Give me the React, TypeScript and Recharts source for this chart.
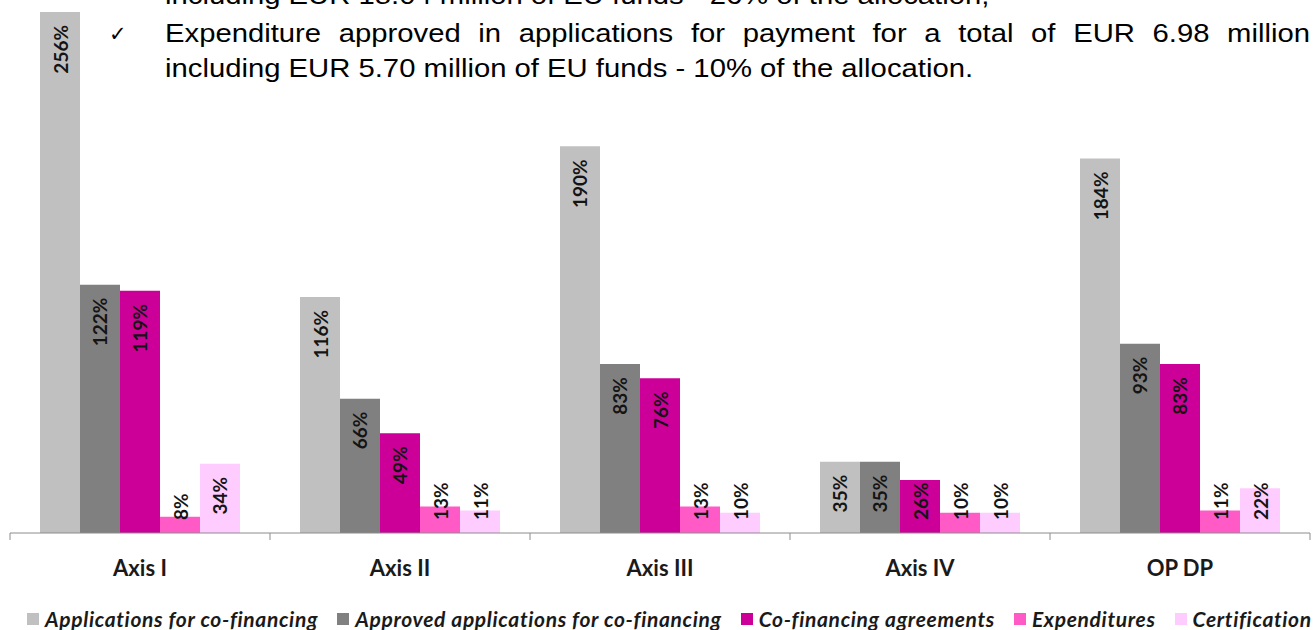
import React from "react";
import { Bar, BarChart, LabelList, XAxis, YAxis } from "recharts";

const categories = ["Axis I", "Axis II", "Axis III", "Axis IV", "OP DP"];
const applications = [256, 116, 190, 35, 184];
const approved = [122, 66, 83, 35, 93];
const agreements = [119, 49, 76, 26, 83];
const expenditures = [8, 13, 13, 10, 11];
const certification = [34, 11, 10, 10, 22];

const SERIES = [
  { key: "applications", name: "Applications for co-financing", color: "#c0c0c0" },
  { key: "approved", name: "Approved applications for co-financing", color: "#808080" },
  { key: "agreements", name: "Co-financing agreements", color: "#cc0099" },
  { key: "expenditures", name: "Expenditures", color: "#ff5ac6" },
  { key: "certification", name: "Certification", color: "#ffccff" },
];

const W = 1314;
const H = 630;
const MARGIN = { top: 12, right: 4, bottom: 0, left: 10 };
const AXIS_H = 97;
const BAND = (W - MARGIN.left - MARGIN.right) / categories.length;

const data = categories.map((name, i) => ({
  name,
  applications: applications[i],
  approved: approved[i],
  agreements: agreements[i],
  expenditures: expenditures[i],
  certification: certification[i],
}));

const LABEL_FONT = "Lato, 'Open Sans', sans-serif";

// vertical label: top of text sits just under the bar end, unless the bar is
// too short, then the text rests a bit above the baseline
function BarValueLabel(props: any) {
  const { x, y, width, height, value } = props;
  const text = `${value}%`;
  const estLen = String(value).length * 11 + 15;
  const cx = x + width / 2;
  const base = y + height;
  const fits = height >= 13 + estLen + 13;
  const ty = fits ? y + 13 : base - 13;
  return (
    <text
      x={cx}
      y={ty}
      transform={`rotate(-90, ${cx}, ${ty})`}
      textAnchor={fits ? "end" : "start"}
      dominantBaseline="central"
      fontFamily={LABEL_FONT}
      fontWeight={700}
      fontSize={19}
      fill="#141414"
    >
      {text}
    </text>
  );
}

function CategoryTick(props: any) {
  const { x, y, payload, index } = props;
  const left = x - BAND / 2;
  const right = x + BAND / 2;
  return (
    <g>
      <line x1={left} y1={y} x2={left} y2={y + 7} stroke="#8c8c8c" />
      {index === categories.length - 1 && (
        <line x1={right} y1={y} x2={right} y2={y + 7} stroke="#8c8c8c" />
      )}
      <text
        x={x}
        y={y + 34}
        textAnchor="middle"
        dominantBaseline="central"
        fontFamily={LABEL_FONT}
        fontWeight={700}
        fontSize={22}
        fill="#1a1a1a"
      >
        {payload.value}
      </text>
    </g>
  );
}

function LegendRow() {
  return (
    <div
      style={{
        position: "absolute",
        left: 27,
        top: 605,
        display: "flex",
        alignItems: "center",
        whiteSpace: "nowrap",
        fontFamily: LABEL_FONT,
        fontWeight: 700,
        fontStyle: "italic",
        fontSize: 21,
        lineHeight: "28px",
        color: "#1a1a1a",
        letterSpacing: 0.65,
      }}
    >
      {SERIES.map((s) => (
        <div key={s.key} style={{ display: "flex", alignItems: "center", marginRight: 19 }}>
          <span style={{ width: 12, height: 12, background: s.color, marginRight: 6, display: "inline-block" }} />
          <span>{s.name}</span>
        </div>
      ))}
    </div>
  );
}

const SCALE_X = 1.17;

export default function App() {
  const textStyle: React.CSSProperties = {
    position: "absolute",
    left: 165,
    fontFamily: "'Liberation Sans', Arial, sans-serif",
    fontSize: 25,
    color: "#000",
    whiteSpace: "nowrap",
    lineHeight: "30px",
    transform: `scaleX(${SCALE_X})`,
    transformOrigin: "0 0",
  };
  return (
    <div
      style={{
        position: "absolute",
        left: 0,
        top: 0,
        width: W,
        height: H,
        overflow: "hidden",
        background: "#fff",
      }}
    >
      <BarChart
        width={W}
        height={H}
        data={data}
        margin={MARGIN}
        barCategoryGap={30}
        barGap={0}
      >
        <XAxis
          dataKey="name"
          height={AXIS_H}
          axisLine={{ stroke: "#8c8c8c" }}
          tickLine={false}
          tickSize={0}
          tickMargin={0}
          interval={0}
          tick={<CategoryTick />}
        />
        <YAxis hide domain={[0, 256]} allowDataOverflow />
        {SERIES.map((s) => (
          <Bar key={s.key} dataKey={s.key} name={s.name} fill={s.color} isAnimationActive={false}>
            <LabelList dataKey={s.key} content={<BarValueLabel />} />
          </Bar>
        ))}
      </BarChart>

      <div style={{ ...textStyle, top: -20 }}>
        including EUR 18.04 million of EU funds - 26% of the allocation;
      </div>
      <div
        style={{
          position: "absolute",
          left: 109,
          top: 19,
          fontFamily: "'DejaVu Sans', sans-serif",
          fontSize: 21,
          fontWeight: 700,
          lineHeight: "30px",
        }}
      >
        ✓
      </div>
      <div
        style={{
          ...textStyle,
          top: 18,
          width: 1145 / SCALE_X,
          whiteSpace: "normal",
          textAlign: "justify",
          textAlignLast: "justify",
        }}
      >
        Expenditure approved in applications for payment for a total of EUR 6.98 million
      </div>
      <div style={{ ...textStyle, top: 53 }}>
        including EUR 5.70 million of EU funds - 10% of the allocation.
      </div>

      <LegendRow />
    </div>
  );
}
